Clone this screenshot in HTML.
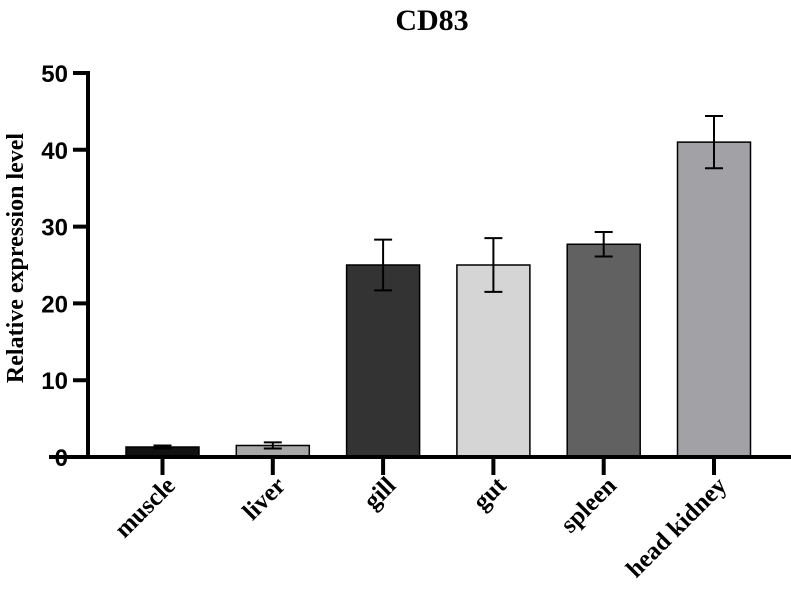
<!DOCTYPE html>
<html><head><meta charset="utf-8"><style>body{margin:0;background:#fff}svg{display:block}</style></head>
<body>
<svg id="chart" width="791" height="604" xmlns="http://www.w3.org/2000/svg">
<text x="432" y="30" text-anchor="middle" font-family="Liberation Serif, serif" font-weight="bold" font-size="30">CD83</text>
<text transform="translate(23,258) rotate(-90)" text-anchor="middle" font-family="Liberation Serif, serif" font-weight="bold" font-size="24">Relative expression level</text>
<g id="axes"></g><g id="bars"></g>
</svg>
<script>
const categories=["muscle","liver","gill","gut","spleen","head kidney"];
const values=[1.3,1.5,25.0,25.0,27.7,41.0];
const errors=[0.2,0.4,3.3,3.5,1.6,3.4];
const colors=["#111111","#a8a8a8","#333333","#d5d5d5","#616161","#a2a1a5"];
const yTicks=[0,10,20,30,40,50];
const NS="http://www.w3.org/2000/svg";
const y0=457,yPer=7.68,x0=162.5,step=110.3,bw=73;
const y=v=>y0-v*yPer, x=i=>x0+i*step;
function mk(t,a,p){const e=document.createElementNS(NS,t);for(const k in a)e.setAttribute(k,a[k]);p.appendChild(e);return e;}
const ax=document.getElementById('axes'),bg=document.getElementById('bars');
yTicks.forEach(t=>{
 const l=mk('line',{x1:73,x2:90,y1:y(t),y2:y(t),stroke:'#000','stroke-width':4},ax);
 
 
 const tx=mk('text',{x:68,y:y(t)+9,'text-anchor':'end','font-family':'Liberation Sans, sans-serif','font-weight':'bold','font-size':24},ax);
 tx.textContent=t;
 
 
});
categories.forEach((c,i)=>{
 const cx=x(i);
 const r=mk('rect',{x:cx-bw/2,y:y(values[i]),width:bw,height:y0-y(values[i]),fill:colors[i],stroke:'#000','stroke-width':1.5},bg);
 
 
 const g=mk('g',{stroke:'#000','stroke-width':2},bg);
 
 
 const hi=y(values[i]+errors[i]),lo=y(values[i]-errors[i]);
 mk('line',{x1:cx,x2:cx,y1:hi,y2:lo},g);
 mk('line',{x1:cx-9,x2:cx+9,y1:hi,y2:hi},g);
 mk('line',{x1:cx-9,x2:cx+9,y1:lo,y2:lo},g);
 const tk=mk('line',{x1:cx,x2:cx,y1:y0,y2:y0+18,stroke:'#000','stroke-width':4},ax);
 
 
 const lb=mk('text',{transform:`translate(${cx+14},${y0+30}) rotate(-45)`,'text-anchor':'end','font-family':'Liberation Serif, serif','font-weight':'bold','font-size':25},ax);
 lb.textContent=c;
 
 
});
const va=mk('line',{x1:88,x2:88,y1:y(50)-2,y2:y0+2,stroke:'#000','stroke-width':4},ax);


const ha=mk('line',{x1:49,x2:791,y1:y0,y2:y0,stroke:'#000','stroke-width':4},bg);


</script>
</body></html>
